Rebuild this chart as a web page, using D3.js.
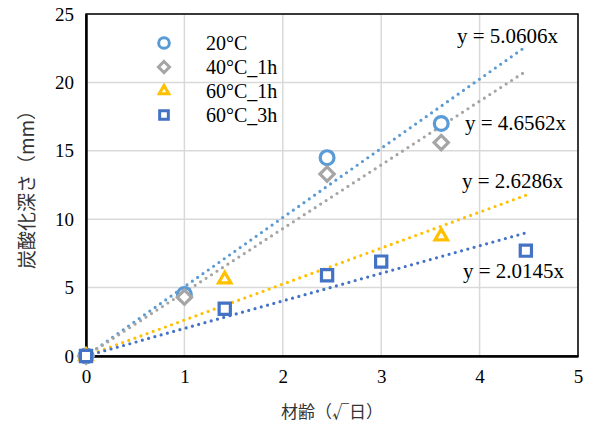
<!DOCTYPE html>
<html>
<head>
<meta charset="utf-8">
<script src="https://cdn.jsdelivr.net/npm/d3@7"></script>
<style>
  body { margin: 0; background: #fff; }
  svg { display: block; }
  .serif { font-family: "Liberation Serif", Tinos, "Times New Roman", Times, "Nimbus Roman", "DejaVu Serif", "Noto Serif", "Noto Serif CJK JP", serif; }
  .jp { font-family: "Noto Sans CJK JP", sans-serif; }
</style>
</head>
<body>
<svg width="590" height="428"></svg>
<script>
// series names, markers and colours
var seriesNames = ["20°C", "40°C_1h", "60°C_1h", "60°C_3h"];
var seriesColors = ["#5B9BD5", "#A5A5A5", "#FFC000", "#4472C4"];
var seriesShapes = ["circle", "diamond", "triangle", "square"];

// x = sqrt(days), y = depth in mm
var x20 = [0, 1, 2.45, 3.61];
var y20 = [0, 4.5, 14.5, 17.0];
var x40 = [0, 1, 2.45, 3.61];
var y40 = [0, 4.3, 13.3, 15.6];
var x60a = [0, 1.41, 3.61];
var y60a = [0, 5.6, 8.75];
var x60b = [0, 1.41, 2.45, 3.0, 4.47];
var y60b = [0, 3.45, 5.9, 6.9, 7.7];

// trendline slopes (through origin)
var slopes = [5.0606, 4.6562, 2.6286, 2.0145];
var slopeLabels = ["y = 5.0606x", "y = 4.6562x", "y = 2.6286x", "y = 2.0145x"];

var xTicks = [0, 1, 2, 3, 4, 5];
var yTicks = [0, 5, 10, 15, 20, 25];

var xTitle = "材齢（√日）";
var yTitle = "炭酸化深さ（mm）";

function renderChart() {
    var svg = d3.select("svg"),
        margin = { top: 14, right: 12, bottom: 72, left: 86 },
        width = +svg.attr("width") - margin.left - margin.right,
        height = +svg.attr("height") - margin.top - margin.bottom;

    var x = d3.scaleLinear().domain([0, 5]).range([0, width]),
        y = d3.scaleLinear().domain([0, 25]).range([height, 0]);

    var g = svg.append("g")
        .attr("transform", "translate(" + margin.left + "," + margin.top + ")");

    var data = [
        { xs: x20, ys: y20 },
        { xs: x40, ys: y40 },
        { xs: x60a, ys: y60a },
        { xs: x60b, ys: y60b }
    ];
    var xMax = d3.max(data, function (s) { return d3.max(s.xs); });

    // gridlines
    g.append("g").selectAll("line")
        .data(yTicks.slice(1))
        .enter().append("line")
        .attr("x1", 0).attr("x2", width)
        .attr("y1", function (d) { return y(d); })
        .attr("y2", function (d) { return y(d); })
        .attr("stroke", "#d9d9d9").attr("stroke-width", 1.5);
    g.append("g").selectAll("line")
        .data(xTicks.slice(1))
        .enter().append("line")
        .attr("y1", 0).attr("y2", height)
        .attr("x1", function (d) { return x(d); })
        .attr("x2", function (d) { return x(d); })
        .attr("stroke", "#d9d9d9").attr("stroke-width", 1.5);

    // frame
    g.append("rect")
        .attr("width", width).attr("height", height)
        .attr("fill", "none").attr("stroke", "#000").attr("stroke-width", 1.5);

    // axes
    var xAxis = g.append("g")
        .attr("transform", "translate(0," + height + ")")
        .call(d3.axisBottom(x).tickValues(xTicks).tickFormat(d3.format("d")).tickSize(0).tickPadding(14));
    var yAxis = g.append("g")
        .call(d3.axisLeft(y).tickValues(yTicks).tickFormat(d3.format("d")).tickSize(0).tickPadding(12));
    [xAxis, yAxis].forEach(function (a) {
        a.attr("font-family", null).attr("font-size", null);
        a.select(".domain").attr("stroke", "#000").attr("stroke-width", 2.5);
        a.selectAll("text")
            .attr("class", "serif")
            .style("font-size", "19px").attr("fill", "#000");
    });

    // trendlines
    data.forEach(function (s, i) {
        g.append("line")
            .attr("x1", x(0)).attr("y1", y(0))
            .attr("x2", x(xMax)).attr("y2", y(slopes[i] * xMax))
            .attr("stroke", seriesColors[i])
            .attr("stroke-width", 3.2)
            .attr("stroke-linecap", "round")
            .attr("stroke-dasharray", "0,6.5");
    });

    var symbolType = {
        circle: d3.symbolCircle,
        diamond: d3.symbolDiamond2,
        triangle: d3.symbolTriangle2,
        square: d3.symbolSquare2
    };
    var symbolSize = { circle: 150, diamond: 130, triangle: 110, square: 160 };

    // points
    data.forEach(function (s, i) {
        var shape = seriesShapes[i];
        g.append("g").selectAll("path")
            .data(s.xs.map(function (v, k) { return [v, s.ys[k]]; }))
            .enter().append("path")
            .attr("d", d3.symbol().type(symbolType[shape]).size(symbolSize[shape]))
            .attr("transform", function (d) {
                return "translate(" + x(d[0]) + "," + y(d[1]) + ")";
            })
            .attr("fill", "#fff")
            .attr("stroke", seriesColors[i])
            .attr("stroke-width", 3.2);
    });

    // trendline labels
    var labelPos = [[457, 43], [465, 130], [462, 188], [463, 278]];
    svg.append("g").selectAll("text")
        .data(slopeLabels)
        .enter().append("text")
        .attr("class", "serif")
        .attr("x", function (d, i) { return labelPos[i][0]; })
        .attr("y", function (d, i) { return labelPos[i][1]; })
        .style("font-size", "21px")
        .text(function (d) { return d; });

    // legend
    var legend = svg.append("g").attr("transform", "translate(164,43)");
    var rows = legend.selectAll("g")
        .data(seriesNames)
        .enter().append("g")
        .attr("transform", function (d, i) { return "translate(0," + (i * 24) + ")"; });
    rows.append("path")
        .attr("d", function (d, i) {
            var shape = seriesShapes[i];
            return d3.symbol().type(symbolType[shape]).size(symbolSize[shape] * 0.6)();
        })
        .attr("fill", "#fff")
        .attr("stroke", function (d, i) { return seriesColors[i]; })
        .attr("stroke-width", 3);
    rows.append("text")
        .attr("class", "serif")
        .attr("x", 42).attr("y", 7)
        .style("font-size", "20px")
        .text(function (d) { return d; });

    // axis titles
    svg.append("text")
        .attr("class", "jp")
        .attr("x", margin.left + width / 2).attr("y", 418)
        .attr("text-anchor", "middle")
        .style("font-size", "17px").attr("fill", "#333")
        .text(xTitle);
    svg.append("text")
        .attr("class", "jp")
        .attr("transform", "translate(34," + (margin.top + height / 2) + ") rotate(-90)")
        .attr("text-anchor", "middle")
        .style("font-size", "19px").attr("fill", "#333")
        .text(yTitle);
}

renderChart();
</script>
</body>
</html>
